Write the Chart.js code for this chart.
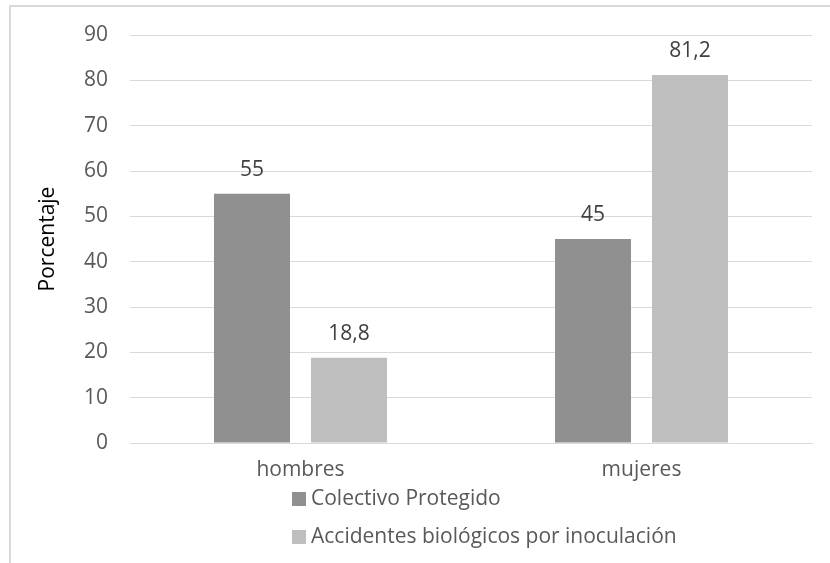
<!DOCTYPE html>
<html>
<head>
<meta charset="utf-8">
<script src="https://cdn.jsdelivr.net/npm/chart.js@4/dist/chart.umd.min.js"></script>
<style>
  html, body { margin: 0; padding: 0; background: #ffffff; }
  #wrap { width: 830px; height: 563px; position: relative; }
</style>
</head>
<body>
<div id="wrap"><canvas id="c" width="830" height="563"></canvas></div>
<script>
// Categories, series and y-axis range
const categories = ['hombres', 'mujeres'];
const seriesNames = ['Colectivo Protegido', 'Accidentes biológicos por inoculación'];
const colectivoProtegido = [55, 45];
const accidentesInoculacion = [18.8, 81.2];
const yMin = 0;
const yMax = 90;
const yStep = 10;

const FONT = '"Open Sans", "Noto Sans", sans-serif';
const FONT_SIZE = 21;
const barColors = ['#909090', '#bfbfbf'];

// Value labels above each bar (decimal comma)
const valueLabels = {
  id: 'valueLabels',
  afterDatasetsDraw(chart) {
    const ctx = chart.ctx;
    ctx.save();
    ctx.font = FONT_SIZE + 'px ' + FONT;
    ctx.fillStyle = '#404040';
    ctx.textAlign = 'center';
    ctx.textBaseline = 'middle';
    chart.data.datasets.forEach((ds, i) => {
      const meta = chart.getDatasetMeta(i);
      meta.data.forEach((bar, j) => {
        const txt = String(ds.data[j]).replace('.', ',');
        ctx.fillText(txt, bar.x, bar.y - 24);
      });
    });
    ctx.restore();
  }
};

// Stacked legend below the category labels, plus the outer frame
const stackedLegend = {
  id: 'stackedLegend',
  afterDraw(chart) {
    const ctx = chart.ctx;
    ctx.save();
    ctx.strokeStyle = '#d9d9d9';
    ctx.lineWidth = 2;
    ctx.strokeRect(10, 6, 1000, 1000);
    ctx.font = FONT_SIZE + 'px ' + FONT;
    ctx.textAlign = 'left';
    ctx.textBaseline = 'middle';
    const x0 = 292;
    const rows = [499, 537];
    chart.data.datasets.forEach((ds, i) => {
      const y = rows[i];
      ctx.fillStyle = ds.backgroundColor;
      ctx.fillRect(x0, y - 7, 14, 14);
      ctx.fillStyle = '#595959';
      ctx.fillText(ds.label, x0 + 19, y);
    });
    ctx.restore();
  }
};

new Chart(document.getElementById('c'), {
  type: 'bar',
  data: {
    labels: categories,
    datasets: [
      { label: seriesNames[0], data: colectivoProtegido, backgroundColor: barColors[0] },
      { label: seriesNames[1], data: accidentesInoculacion, backgroundColor: barColors[1] }
    ]
  },
  options: {
    responsive: false,
    animation: false,
    devicePixelRatio: 1,
    layout: { padding: { left: 0, right: 18, top: 35, bottom: 80 } },
    datasets: { bar: { categoryPercentage: 0.569, barPercentage: 0.7835 } },
    plugins: {
      legend: { display: false },
      tooltip: { enabled: false }
    },
    scales: {
      x: {
        grid: { display: false, drawTicks: false },
        border: { display: true, color: '#d9d9d9', width: 1 },
        ticks: { color: '#595959', font: { family: FONT, size: FONT_SIZE }, padding: 14 },
        afterFit(scale) { scale.height = 40; }
      },
      y: {
        min: yMin,
        max: yMax,
        grid: { color: '#d9d9d9', drawTicks: false },
        border: { display: false },
        ticks: { stepSize: yStep, color: '#595959', font: { family: FONT, size: FONT_SIZE }, padding: 22 },
        title: {
          display: true,
          text: 'Porcentaje',
          color: '#000000',
          font: { family: FONT, size: FONT_SIZE },
          padding: { top: 35, bottom: 0 }
        },
        afterFit(scale) { scale.width = 130; }
      }
    }
  },
  plugins: [valueLabels, stackedLegend]
});
</script>
</body>
</html>
